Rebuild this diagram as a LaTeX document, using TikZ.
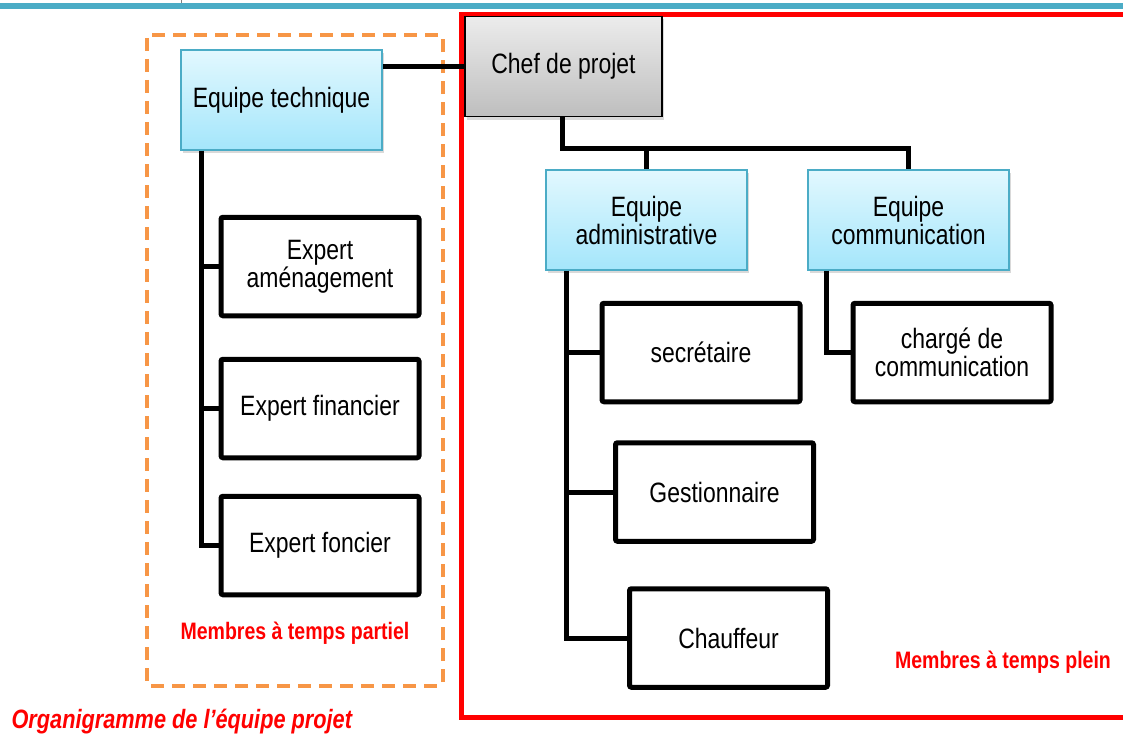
\documentclass[tikz,border=0pt]{standalone}
\usepackage{fontspec}
\setmainfont[FakeStretch=0.82]{Liberation Sans}
\usepackage{tikz}
\usetikzlibrary{positioning}
\usetikzlibrary{shadows}

\definecolor{teambar}{HTML}{4BACC6}
\definecolor{teamtop}{HTML}{E2F8FE}
\definecolor{teambottom}{HTML}{A4E6FB}
\definecolor{chieftop}{HTML}{ECECEC}
\definecolor{chiefbottom}{HTML}{BEBEBE}
\definecolor{partframe}{HTML}{F79646}

\begin{document}
\begin{tikzpicture}[x=1pt,y=-1pt,on grid,
	boxfont/.style={font=\fontsize{28}{28}\selectfont},
	team/.style={rectangle, draw=teambar, line width=1.2pt, top color=teamtop, bottom color=teambottom, minimum width=201pt, minimum height=100pt, align=center, boxfont, drop shadow={opacity=0.3, shadow xshift=2pt, shadow yshift=-3pt}},
	chief/.style={team, draw=black, line width=1.5pt, top color=chieftop, bottom color=chiefbottom, minimum width=197pt},
	member/.style={rectangle, draw, line width=5pt, rounded corners=2pt, fill=white, minimum width=198pt, minimum height=98.5pt, align=center, boxfont},
	link/.style={draw, line width=5pt},
	legend/.style={text=red, font=\fontsize{23.8}{26}\selectfont\bfseries}]
	\useasboundingbox (0,0) rectangle (1123,733);

	\fill[teambar] (0,3) rectangle (1123,9);
	\draw[gray, line width=0.6pt] (181.5,0) -- (181.5,3);
	\draw[partframe, line width=4pt, dash pattern=on 13pt off 8pt, rounded corners=3pt] (147,35) rectangle (443,686);
	\draw[red, line width=5pt] (461,15) rectangle (1135,717);

	\node[chief] (chef) at (563.5,66.5) {Chef de projet};
	\node[team] (tech) at (281.5,100) {Equipe technique};
	\node[team] (admin) at (646.5,220) {Equipe\\administrative};
	\node[team] (comm) [right=262pt of admin] {Equipe\\communication};

	\node[member] (amen) at (320,266.5) {Expert\\aménagement};
	\node[member] (fin) [below=142pt of amen] {Expert financier};
	\node[member] (fon) [below=137pt of fin] {Expert foncier};

	\node[member] (sec) at (701,352.5) {secrétaire};
	\node[member] (gest) [below right=139.5pt and 13.5pt of sec] {Gestionnaire};
	\node[member] (chauf) [below right=146pt and 14pt of gest] {Chauffeur};
	\node[member] (charge) [right=251pt of sec] {chargé de\\communication};

	\draw[link] (chef.west) -- (chef.west -| tech.east);
	\draw[link] ([xshift=-1.5pt]chef.south) -- ++(0,31) coordinate (bus) -| (admin.north);
	\draw[link] (bus) -| (comm.north);

	\draw[link] ([xshift=21pt]tech.south west) coordinate (t0) |- (fon.west);
	\draw[link] (t0 |- amen.west) -- (amen.west);
	\draw[link] (t0 |- fin.west) -- (fin.west);

	\draw[link] ([xshift=21pt]admin.south west) coordinate (a0) |- (chauf.west);
	\draw[link] (a0 |- sec.west) -- (sec.west);
	\draw[link] (a0 |- gest.west) -- (gest.west);

	\draw[link] ([xshift=19.5pt]comm.south west) |- (charge.west);

	\node[legend] (partiel) at (295,633) {Membres à temps partiel};
	\node[legend] (plein) at (1003,662) {Membres à temps plein};
	\node[legend, font=\fontsize{26.5}{28}\selectfont\bfseries\itshape, anchor=west] (titre) at (8,722) {Organigramme de l’équipe projet};
\end{tikzpicture}
\end{document}
